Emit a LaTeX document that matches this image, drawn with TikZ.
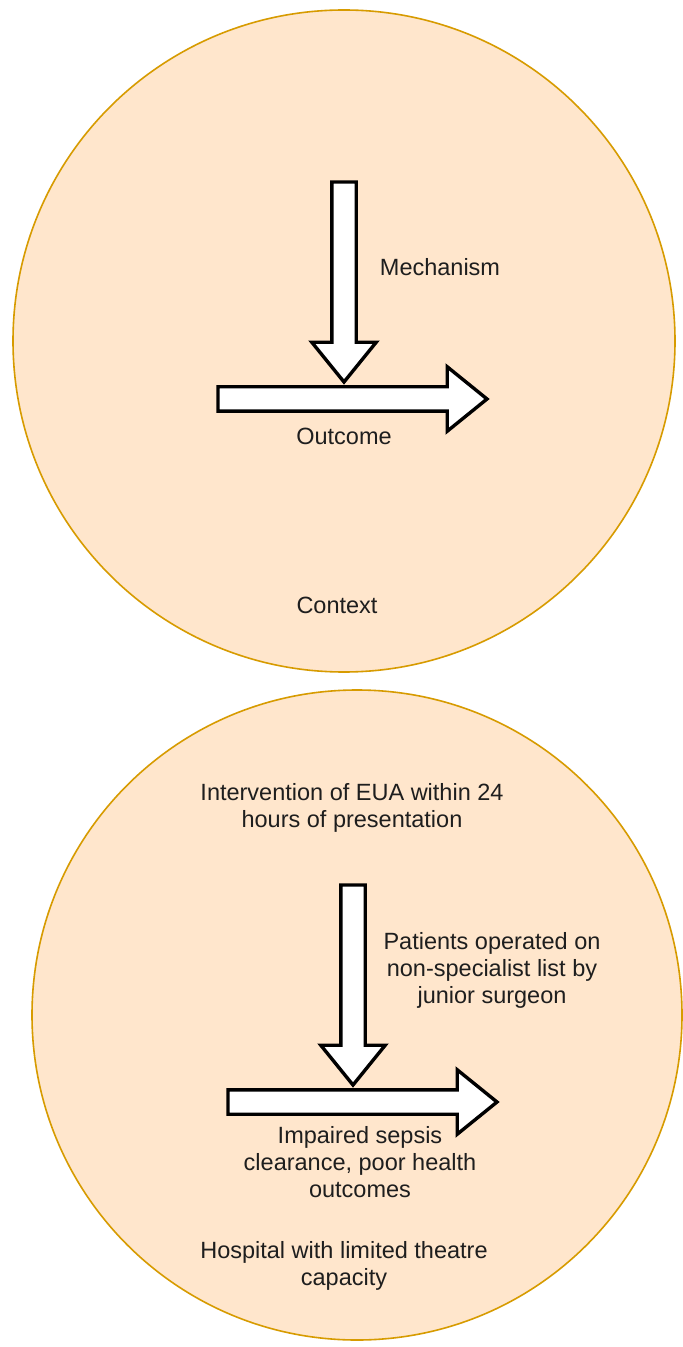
\documentclass[tikz,border=0pt]{standalone}
\usepackage{fontspec}
\setmainfont{Liberation Sans}
\usetikzlibrary{shapes.arrows}
\definecolor{ctxfill}{HTML}{FFE6CC}
\definecolor{ctxline}{HTML}{D79B00}
\definecolor{lbltext}{HTML}{1E1E1E}
\begin{document}
\begin{tikzpicture}[x=0.5pt, y=-0.5pt,
  ctx/.style={circle, draw=ctxline, fill=ctxfill, line width=0.8pt, inner sep=0pt, outer sep=0pt},
  blockarrow/.style={single arrow, draw=black, fill=white, line width=1.7pt,
    inner xsep=0pt, inner ysep=5.25pt, outer sep=0pt,
    single arrow head extend=10pt, single arrow tip angle=78, anchor=tail},
  lbl/.style={text=lbltext, align=center, inner sep=0pt,
    font=\fontsize{11.75}{13.5}\selectfont}]

  % Page
  \path[use as bounding box, fill=white] (0,0) rectangle (682,1347);

  % Upper circle: generic model
  \node[ctx, minimum size=331pt] (ctxA) at (344,341) {};
  \node[blockarrow, minimum height=100pt, rotate=-90] (mechA) at (344,182) {};
  \node[blockarrow, minimum height=134.5pt] (outA) at (218,399) {};
  \node[lbl] (mechlblA) at (440,267) {Mechanism};
  \node[lbl] (outlblA) at (344,436) {Outcome};
  \node[lbl] (ctxlblA) at (337,605) {Context};

  % Lower circle: EUA example
  \node[ctx, minimum size=325pt] (ctxB) at (357,1015) {};
  \node[blockarrow, minimum height=100pt, rotate=-90] (mechB) at (353,885) {};
  \node[blockarrow, minimum height=134.5pt] (outB) at (228,1102) {};
  \node[lbl] (intlblB) at (352,808) {Intervention of EUA within 24\\hours of presentation};
  \node[lbl] (mechlblB) at (492,970) {Patients operated on\\non-specialist list by\\junior surgeon};
  \node[lbl] (outlblB) at (360,1162) {Impaired sepsis\\clearance, poor health\\outcomes};
  \node[lbl] (ctxlblB) at (344,1266) {Hospital with limited theatre\\capacity};

\end{tikzpicture}
\end{document}
